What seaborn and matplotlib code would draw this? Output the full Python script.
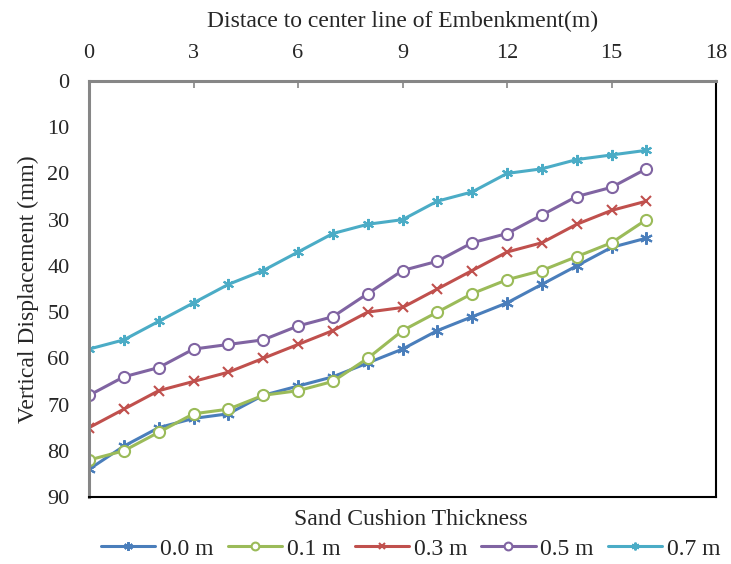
import matplotlib
matplotlib.use("Agg")
import matplotlib.pyplot as plt
import seaborn as sns
import pandas as pd

sns.set_style("white")
plt.rcParams['font.family'] = ['Liberation Serif', 'DejaVu Serif']

distance = list(range(17))
s00 = [84, 79, 75, 73, 72, 68, 66, 64, 61, 58, 54, 51, 48, 44, 40, 36, 34]
s01 = [82, 80, 76, 72, 71, 68, 67, 65, 60, 54, 50, 46, 43, 41, 38, 35, 30]
s03 = [75, 71, 67, 65, 63, 60, 57, 54, 50, 49, 45, 41, 37, 35, 31, 28, 26]
s05 = [68, 64, 62, 58, 57, 56, 53, 51, 46, 41, 39, 35, 33, 29, 25, 23, 19]
s07 = [58, 56, 52, 48, 44, 41, 37, 33, 31, 30, 26, 24, 20, 19, 17, 16, 15]
labels = ["0.0 m", "0.1 m", "0.3 m", "0.5 m", "0.7 m"]
x_ticks = [0, 3, 6, 9, 12, 15, 18]
y_ticks = [0, 10, 20, 30, 40, 50, 60, 70, 80, 90]

series = [s00, s01, s03, s05, s07]
colors = ["#4A7EBB", "#9BBB59", "#C0504D", "#8064A2", "#4BACC6"]
markers = [(6, 2, 0), "o", "x", "o", (6, 2, 0)]
msizes = [9, 8, 6.5, 8, 8]

fig = plt.figure(figsize=(7.31, 5.64), dpi=100)
ax = fig.add_axes([0.1218, 0.1188, 0.8577, 0.7376])

for vals, lab, c, m, ms in zip(series, labels, colors, markers, msizes):
    df = pd.DataFrame({"x": distance, "y": vals})
    sns.lineplot(data=df, x="x", y="y", ax=ax, color=c, lw=2.2, marker=m,
                 markersize=ms, markeredgecolor=c, markerfacecolor="white",
                 markeredgewidth=1.5, label=lab)

ax.set_xlim(0, 18)
ax.set_ylim(90, 0)
ax.set_xticks(x_ticks)
ax.set_yticks(y_ticks)
ax.xaxis.tick_top()
ax.xaxis.set_label_position("top")
ax.set_xlabel("Distace to center line of Embenkment(m)", fontsize=17, labelpad=12)
ax.set_ylabel("Vertical Displacement (mm)", fontsize=17, labelpad=6)
ax.tick_params(axis="both", direction="in", length=5, width=1.2, color="#868686",
               labelsize=16)
ax.tick_params(axis="x", pad=13)
ax.tick_params(axis="y", pad=14)

for side in ["left", "top"]:
    ax.spines[side].set_color("#868686")
    ax.spines[side].set_linewidth(2.2)
for side in ["right", "bottom"]:
    ax.spines[side].set_color("black")
    ax.spines[side].set_linewidth(1.5)

handles, labs = ax.get_legend_handles_labels()
ax.get_legend().remove()
leg = fig.legend(handles, labs, loc="lower center", bbox_to_anchor=(0.562, -0.03),
                 ncol=5, frameon=False, fontsize=17, title="Sand Cushion Thickness",
                 title_fontsize=17, handlelength=2.3, columnspacing=0.6,
                 handletextpad=0.2, markerscale=0.7, labelspacing=0.35,
                 borderpad=0.4)

fig.savefig("out.png", dpi=100)
